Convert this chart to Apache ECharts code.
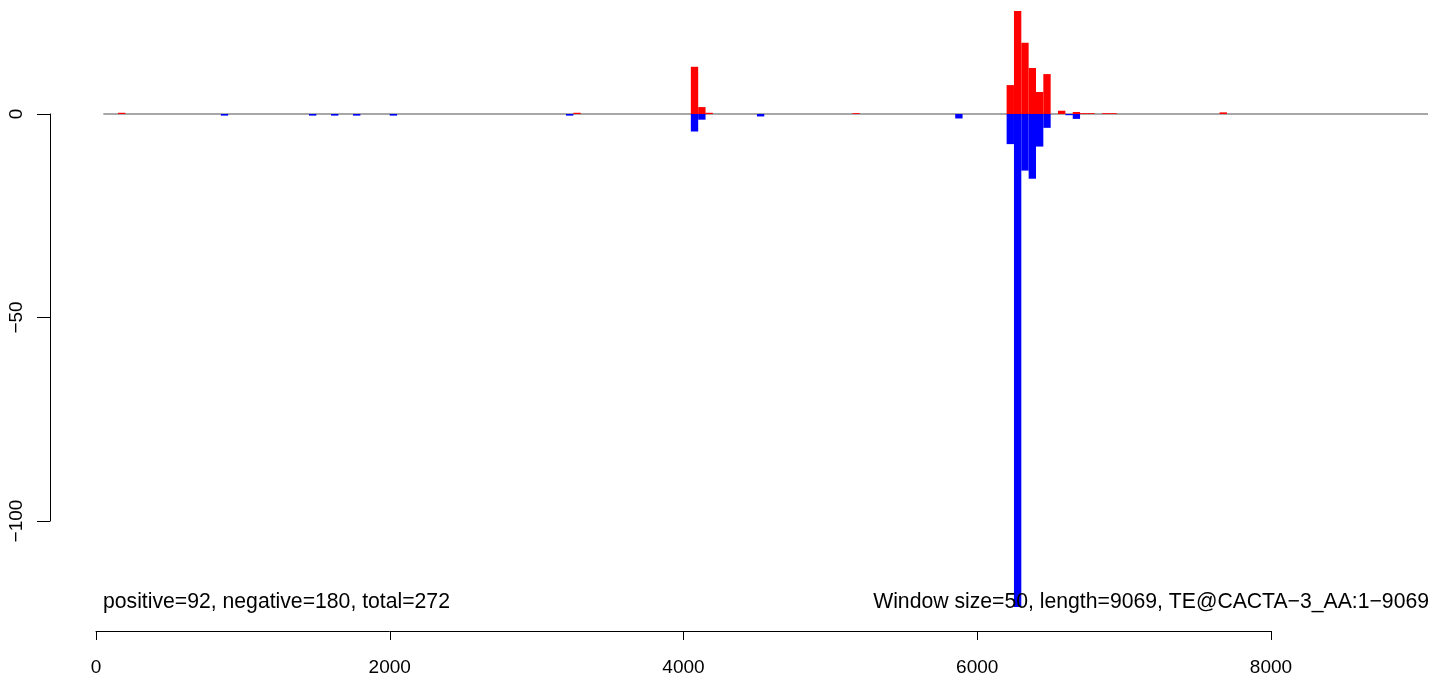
<!DOCTYPE html>
<html>
<head>
<meta charset="utf-8">
<script src="https://cdn.jsdelivr.net/npm/echarts@6/dist/echarts.min.js"></script>
<style>
html,body{margin:0;padding:0;background:#fff;}
#chart{width:1429px;height:678px;}
</style>
</head>
<body>
<div id="chart"></div>
<script>
// Window bins (start position, window size 50)
const windowSize = 50;
const seqLength = 9069;
const posBins = [150, 3250, 4050, 4100, 4150, 5150, 6200, 6250, 6300, 6350, 6400, 6450, 6550, 6650, 6700, 6750, 6850, 6900, 7650];
const posVals = [0.3, 0.3, 11.6, 1.7, 0.3, 0.2, 7.1, 25.3, 17.5, 11.3, 5.4, 9.8, 0.8, 0.5, 0.2, 0.2, 0.2, 0.2, 0.4];
const negBins = [850, 1450, 1600, 1750, 2000, 3200, 4050, 4100, 4500, 5850, 6200, 6250, 6300, 6350, 6400, 6450, 6600, 6650];
const negVals = [-0.4, -0.4, -0.4, -0.4, -0.4, -0.4, -4.3, -1.4, -0.6, -1.1, -7.4, -121.1, -13.9, -15.9, -8.0, -3.4, -0.3, -1.2];
const xTicks = [0, 2000, 4000, 6000, 8000];
const yTicks = [-100, -50, 0];
const leftNote = 'positive=92, negative=180, total=272';
const rightNote = 'Window size=50, length=9069, TE@CACTA\u22123_AA:1\u22129069';

const FONT = "'Liberation Sans', Arial, Helvetica, sans-serif";
const chart = echarts.init(document.getElementById('chart'), null, {renderer: 'canvas'});

function rectRenderer(color) {
  return function (params, api) {
    const x0 = api.value(0), v = api.value(1);
    const p1 = api.coord([x0, v]);
    const p2 = api.coord([x0 + windowSize, 0]);
    return {
      type: 'rect',
      shape: {x: p1[0], y: Math.min(p1[1], p2[1]), width: p2[0] - p1[0], height: Math.abs(p2[1] - p1[1])},
      style: {fill: color}
    };
  };
}

const option = {
  animation: false,
  backgroundColor: '#ffffff',
  grid: [
    {left: 96, top: 11, width: 1332, height: 596},
    {left: 50, top: 114, width: 1, height: 407},
    {left: 96, top: 630, width: 1175, height: 1}
  ],
  xAxis: [
    {gridIndex: 0, type: 'value', min: 0, max: seqLength, show: false},
    {gridIndex: 1, type: 'value', min: 0, max: 1, show: false},
    {gridIndex: 2, type: 'value', min: xTicks[0], max: xTicks[xTicks.length - 1], interval: 2000, position: 'bottom',
     axisLine: {show: true, lineStyle: {color: '#000', width: 1}},
     axisTick: {show: true, length: 9, lineStyle: {color: '#000', width: 1}},
     axisLabel: {show: true, margin: 27, color: '#000', fontSize: 19, fontFamily: FONT,
                 formatter: v => String(v)},
     splitLine: {show: false}}
  ],
  yAxis: [
    {gridIndex: 0, type: 'value', min: -121.1, max: 25.3, show: false},
    {gridIndex: 1, type: 'value', min: yTicks[0], max: yTicks[yTicks.length - 1], interval: 50, position: 'left',
     axisLine: {show: true, lineStyle: {color: '#000', width: 1}},
     axisTick: {show: true, length: 13, lineStyle: {color: '#000', width: 1}},
     axisLabel: {show: true, rotate: 90, margin: 24, color: '#000', fontSize: 19, fontFamily: FONT,
                 formatter: v => String(v).replace('-', '\u2212')},
     splitLine: {show: false}},
    {gridIndex: 2, type: 'value', show: false}
  ],
  series: [
    {type: 'line', xAxisIndex: 0, yAxisIndex: 0, data: [[windowSize, 0], [seqLength, 0]],
     symbol: 'none', lineStyle: {color: '#8a8a8a', width: 1.5}, z: 1, silent: true},
    {type: 'custom', xAxisIndex: 0, yAxisIndex: 0, renderItem: rectRenderer('#ff0000'),
     data: posBins.map((b, i) => [b, posVals[i]]), z: 2, silent: true},
    {type: 'custom', xAxisIndex: 0, yAxisIndex: 0, renderItem: rectRenderer('#0000ff'),
     data: negBins.map((b, i) => [b, negVals[i]]), z: 2, silent: true}
  ],
  graphic: [
    {type: 'text', left: 103, top: 592, z: 10,
     style: {text: leftNote, fill: '#000', font: '21.2px ' + FONT}},
    {type: 'text', right: 0, top: 592, z: 10,
     style: {text: rightNote, fill: '#000', font: '21.2px ' + FONT}}
  ]
};
chart.setOption(option);
</script>
</body>
</html>
